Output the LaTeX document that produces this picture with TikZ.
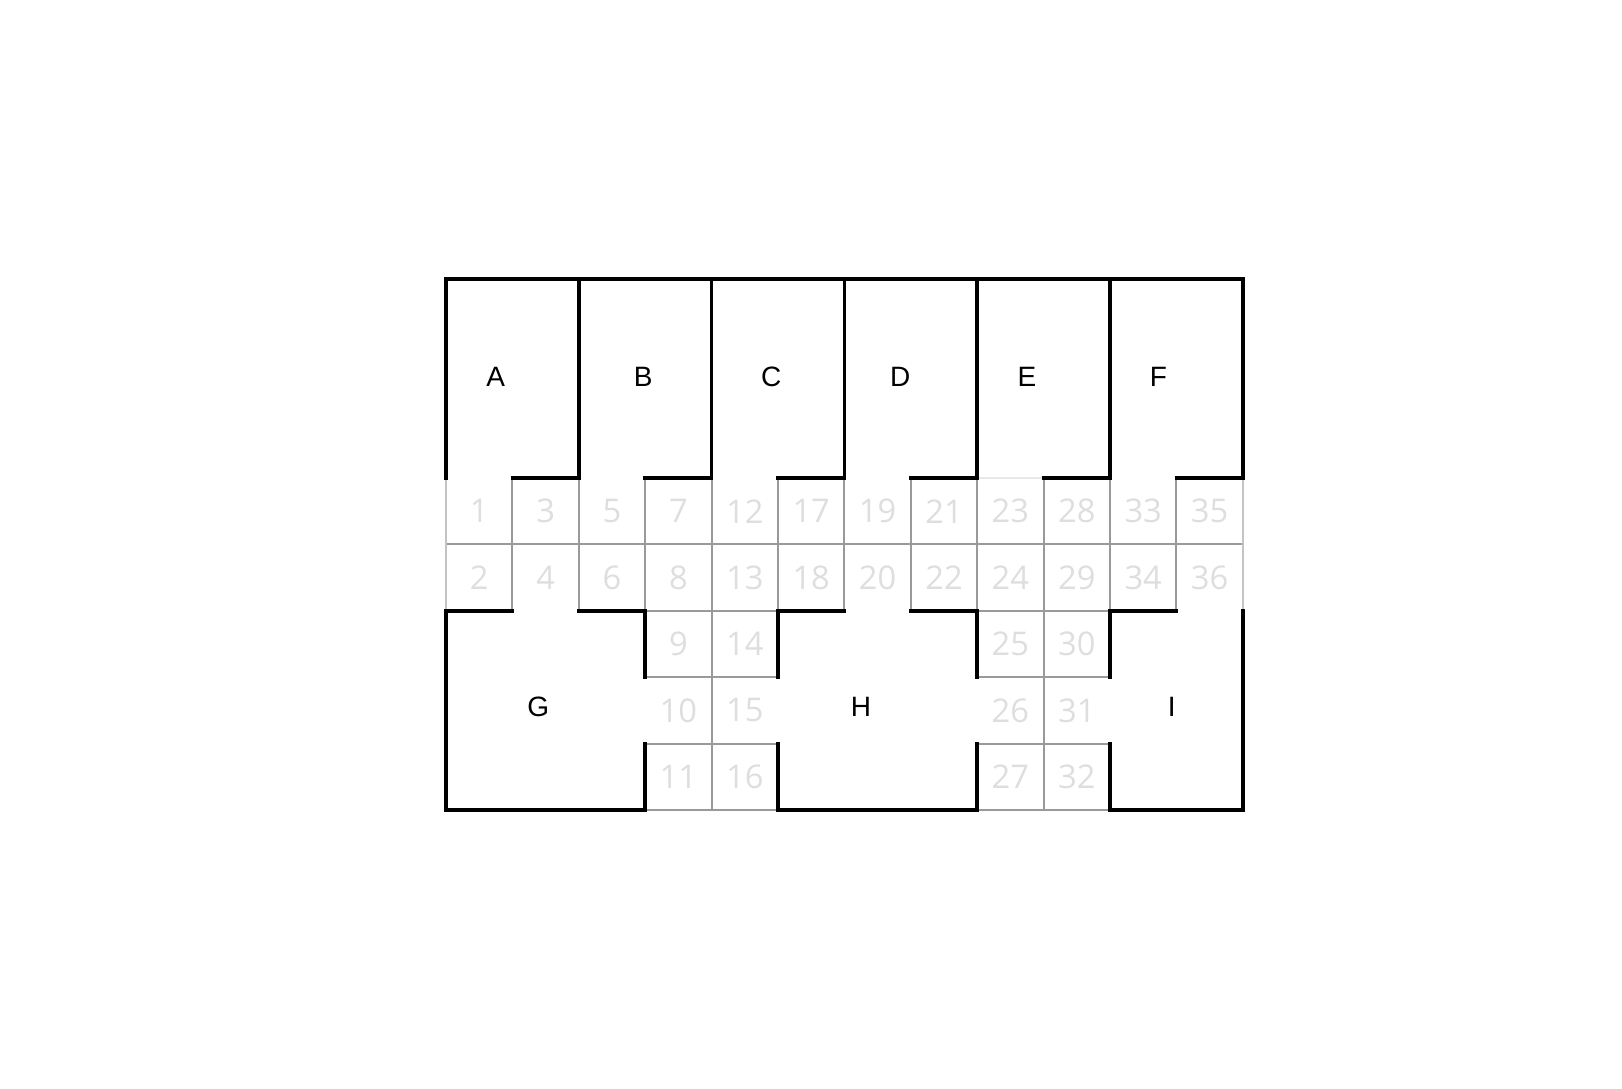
\documentclass[tikz,border=0pt]{standalone}
\usepackage{fontspec}
\setmainfont{Liberation Sans}
\newfontfamily\numfont{Open Sans}
\definecolor{numgray}{HTML}{DEDEDE}
\definecolor{linegray}{HTML}{9A9A9A}
\definecolor{edgegray}{HTML}{C4C4C4}
\begin{document}
\begin{tikzpicture}[
  wall/.style={line width=1.55pt, black, line join=miter, line cap=rect},
  grid/.style={line width=0.8pt, linegray},
  faint/.style={line width=0.8pt, edgegray},
  num/.style={font=\numfont\fontsize{14}{16}\selectfont, text=numgray, inner sep=0pt},
  room/.style={font=\fontsize{12}{14}\selectfont, text=black, inner sep=0pt}
]
\useasboundingbox (-6.717,-4.187) rectangle (17.711,12.199);

% thin gray grid
\draw[grid] (0,4) -- (12,4);
\foreach \x in {1,...,11} \draw[grid] (\x,3) -- (\x,5);
\draw[faint] (0,3) -- (0,5);
\draw[faint] (12,3) -- (12,5);
\draw[line width=0.6pt, numgray!70] (8,5) -- (9,5);
\draw[grid] (4,0) -- (4,3);
\draw[grid] (9,0) -- (9,3);
\foreach \y in {0,1,2,3} {
  \draw[grid] (3,\y) -- (5,\y);
  \draw[grid] (8,\y) -- (10,\y);
}

% thick walls: upper rooms
\draw[wall] (1,5) -- (2,5) -- (2,8) -- (0,8) -- (0,5);
\draw[wall] (3,5) -- (4,5) -- (4,8) -- (2,8);
\draw[wall] (5,5) -- (6,5) -- (6,8) -- (4,8);
\draw[wall] (7,5) -- (8,5) -- (8,8) -- (6,8);
\draw[wall] (9,5) -- (10,5) -- (10,8) -- (8,8);
\draw[wall] (11,5) -- (12,5) -- (12,8) -- (10,8);

% thick walls: lower rooms
\draw[wall] (1,3) -- (0,3) -- (0,0) -- (3,0) -- (3,1);
\draw[wall] (2,3) -- (3,3) -- (3,2);
\draw[wall] (5,2) -- (5,3) -- (6,3);
\draw[wall] (7,3) -- (8,3) -- (8,2);
\draw[wall] (5,1) -- (5,0) -- (8,0) -- (8,1);
\draw[wall] (10,2) -- (10,3) -- (11,3);
\draw[wall] (12,3) -- (12,0) -- (10,0) -- (10,1);

% cell numbers, corridor rows
\foreach \n [count=\i from 0] in {1,3,5,7,12,17,19,21,23,28,33,35}
  \node[num] (c\n) at (\i+0.5,4.5) {\n};
\foreach \n [count=\i from 0] in {2,4,6,8,13,18,20,22,24,29,34,36}
  \node[num] (c\n) at (\i+0.5,3.5) {\n};
% cell numbers, lower columns
\foreach \n/\x/\y in {9/3.5/2.5, 10/3.5/1.5, 11/3.5/0.5,
                      14/4.5/2.5, 15/4.5/1.5, 16/4.5/0.5,
                      25/8.5/2.5, 26/8.5/1.5, 27/8.5/0.5,
                      30/9.5/2.5, 31/9.5/1.5, 32/9.5/0.5}
  \node[num] (c\n) at (\x,\y) {\n};

% room labels
\node[room] (rA) at (0.75,6.52) {A};
\node[room] (rB) at (2.97,6.52) {B};
\node[room] (rC) at (4.90,6.52) {C};
\node[room] (rD) at (6.84,6.52) {D};
\node[room] (rE) at (8.75,6.52) {E};
\node[room] (rF) at (10.73,6.52) {F};
\node[room] (rG) at (1.39,1.56) {G};
\node[room] (rH) at (6.25,1.56) {H};
\node[room] (rI) at (10.93,1.56) {I};
\end{tikzpicture}
\end{document}
